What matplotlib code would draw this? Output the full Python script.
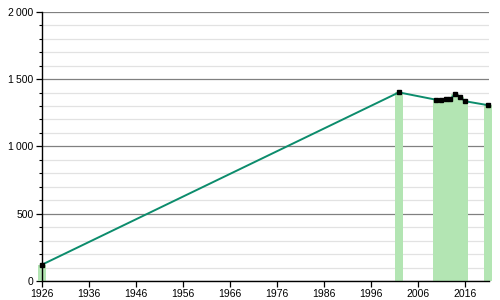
import matplotlib
matplotlib.use("Agg")
import matplotlib.pyplot as plt
from matplotlib.ticker import MultipleLocator, FuncFormatter

plt.rcParams['font.family'] = ['Liberation Sans', 'DejaVu Sans']
plt.rcParams['font.size'] = 7.5

# population by census year
years = [1926, 2002, 2010, 2011, 2012, 2013, 2014, 2015, 2016, 2021]
population = [122, 1401, 1346, 1346, 1351, 1351, 1390, 1370, 1336, 1306]

LINE = '#0c8c6c'
BAR = '#b3e5b3'

fig = plt.figure(figsize=(5, 3), dpi=100)
ax = fig.add_axes([0.084, 0.063, 0.894, 0.898])

ax.bar(years, population, width=1.6, color=BAR, zorder=1, clip_on=False)
ax.plot(years, population, color=LINE, lw=1.4, zorder=3)
ax.plot(years, population, 's', color='black', ms=3.2, zorder=4, clip_on=False)

ax.set_xlim(1926, 2021.2)
ax.set_ylim(0, 2000)

ax.yaxis.set_major_locator(MultipleLocator(500))
ax.yaxis.set_minor_locator(MultipleLocator(100))
ax.set_xticks(range(1926, 2020, 10))
ax.yaxis.set_major_formatter(FuncFormatter(lambda v, p: f'{int(v):,}'.replace(',', '\u2009')))

ax.grid(which='major', axis='y', color='#808080', lw=0.9, zorder=0)
ax.grid(which='minor', axis='y', color='#e2e2e2', lw=0.9, zorder=0)
ax.set_axisbelow(True)

for s in ['top', 'right']:
    ax.spines[s].set_visible(False)
for s in ['left', 'bottom']:
    ax.spines[s].set_color('black')
    ax.spines[s].set_linewidth(1.0)
    ax.spines[s].set_zorder(5)

ax.tick_params(which='major', length=4, width=0.9, color='black', pad=2)
ax.tick_params(which='minor', length=2.5, width=0.8, color='black')
ax.tick_params(axis='x', which='minor', bottom=False)

fig.savefig('out.png', dpi=100)
